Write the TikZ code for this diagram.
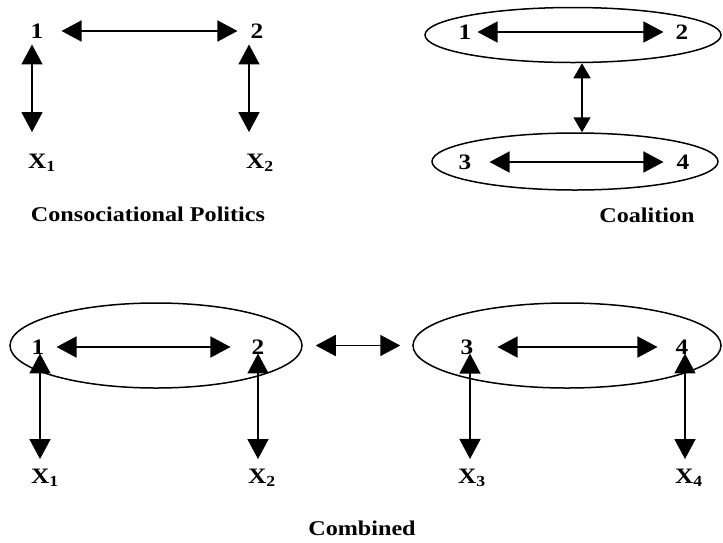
\documentclass[tikz,border=0pt]{standalone}
\usepackage{fontspec}
\setmainfont[FakeStretch=1.15]{Liberation Serif}
\usetikzlibrary{arrows.meta,shapes.geometric}
\begin{document}
\begin{tikzpicture}[x=1pt,y=-1pt,
 lab/.style={inner sep=0pt,font=\fontsize{22}{22}\selectfont\bfseries},
 ttl/.style={inner sep=0pt,font=\fontsize{21}{21}\selectfont\bfseries},
 ring/.style={ellipse,draw,line width=1.5pt,inner sep=0pt},
 dbl/.style={{Triangle[length=20pt,width=21pt]}-{Triangle[length=20pt,width=21pt]},line width=1.6pt},
 sdbl/.style={{Triangle[length=15pt,width=17pt]}-{Triangle[length=15pt,width=17pt]},line width=1.6pt},
]
\useasboundingbox (0,0) rectangle (723,542);
% Consociational politics
\node[lab] (a1) at (37,31) {1};
\node[lab] (a2) at (257,31) {2};
\node[lab] (ax1) at (42,163) {X\textsubscript{1}};
\node[lab] (ax2) at (260,163) {X\textsubscript{2}};
\draw[dbl, shorten <=18pt, shorten >=13pt] (a1) -- (a2);
\draw[dbl, shorten <=6pt, shorten >=22pt] ([xshift=-5pt]a1.south) -- ([xshift=-10pt]ax1.north);
\draw[dbl, shorten <=6pt, shorten >=22pt] ([xshift=-8pt]a2.south) -- ([xshift=-11pt]ax2.north);
\node[ttl] (t1) at (148,214) {Consociational Politics};
% Coalition
\node[ring, minimum width=296pt, minimum height=55pt] (e1) at (573,35) {};
\node[lab] (b1) at (465,32) {1};
\node[lab] (b2) at (682,32) {2};
\draw[dbl, shorten <=6pt, shorten >=12pt] (b1) -- (b2);
\node[ring, minimum width=286pt, minimum height=57pt] (e2) at (575,161.5) {};
\node[lab] (b3) at (465,162) {3};
\node[lab] (b4) at (683,162) {4};
\draw[dbl, shorten <=18pt, shorten >=13pt] (b3) -- (b4);
\draw[sdbl] ([xshift=9pt]e1.south) -- ([xshift=7pt]e2.north);
\node[ttl] (t2) at (647,215) {Coalition};
% Combined
\node[ring, minimum width=292pt, minimum height=85pt] (e3) at (156,345.5) {};
\node[ring, minimum width=308pt, minimum height=85pt] (e4) at (567,345.5) {};
\node[lab] (c1) at (38,347) {1};
\node[lab] (c2) at (258,347) {2};
\node[lab] (c3) at (467,347) {3};
\node[lab] (c4) at (682,347) {4};
\node[lab] (cx1) at (45,478) {X\textsubscript{1}};
\node[lab] (cx2) at (262,478) {X\textsubscript{2}};
\node[lab] (cx3) at (472,478) {X\textsubscript{3}};
\node[lab] (cx4) at (689,478) {X\textsubscript{4}};
\draw[dbl, shorten <=12pt, shorten >=21pt] (c1) -- (c2);
\draw[dbl, shorten <=24pt, shorten >=18pt] (c3) -- (c4);
\draw[dbl, shorten <=13pt, shorten >=12pt] (e3) -- (e4);
\draw[dbl, shorten <=-1pt, shorten >=10pt] ([xshift=2pt]c1.south) -- ([xshift=-5pt]cx1.north);
\draw[dbl, shorten <=-1pt, shorten >=10pt] ([xshift=0pt]c2.south) -- ([xshift=-4pt]cx2.north);
\draw[dbl, shorten <=-1pt, shorten >=10pt] ([xshift=3pt]c3.south) -- ([xshift=-2pt]cx3.north);
\draw[dbl, shorten <=-1pt, shorten >=10pt] ([xshift=3pt]c4.south) -- ([xshift=-4pt]cx4.north);
\node[ttl] (t3) at (362,528) {Combined};
\end{tikzpicture}
\end{document}
